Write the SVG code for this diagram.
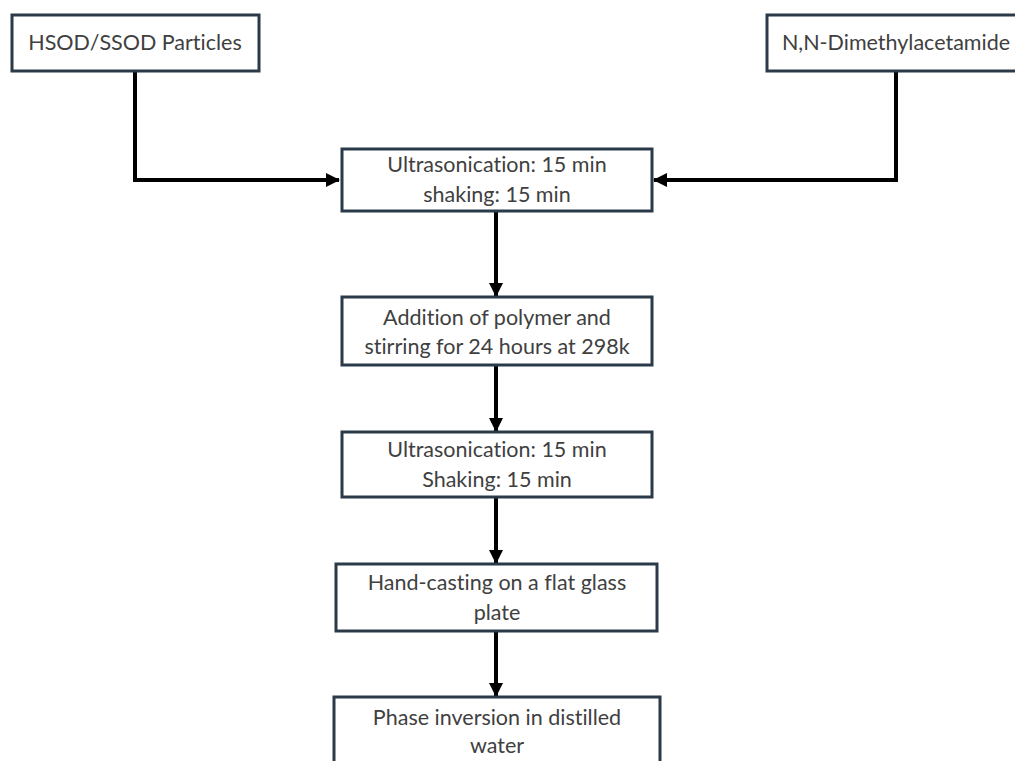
<svg xmlns="http://www.w3.org/2000/svg" width="1015" height="761" viewBox="0 0 1015 761">
<style>
.box{fill:#ffffff;stroke:#2b3a48;stroke-width:3}
.t{font-family:Lato,"Liberation Sans",sans-serif;font-size:21.5px;fill:#404040;text-anchor:middle;font-variant-ligatures:none}
.c{fill:none;stroke:#000;stroke-width:4}
</style>
<defs>
<marker id="ah" markerUnits="userSpaceOnUse" markerWidth="14" markerHeight="14" viewBox="0 0 14 14" refX="13" refY="7" orient="auto">
<path d="M0,0 L14,7 L0,14 Z" fill="#000"/>
</marker>
</defs>
<rect width="1015" height="761" fill="#fff"/>
<g id="connectors">
<path class="c" d="M135,71 V180 H339" marker-end="url(#ah)"/>
<path class="c" d="M896,71 V180 H654" marker-end="url(#ah)"/>
<path class="c" d="M496,211 V296" marker-end="url(#ah)"/>
<path class="c" d="M496,366 V431" marker-end="url(#ah)"/>
<path class="c" d="M496,498 V563" marker-end="url(#ah)"/>
<path class="c" d="M496,632 V696" marker-end="url(#ah)"/>
</g>
<g id="n1">
<rect class="box" x="12" y="15" width="247" height="56"/>
<text class="t" x="135" y="50">HSOD/SSOD Particles</text>
</g>
<g id="n2">
<rect class="box" x="767" y="15" width="260" height="56"/>
<text class="t" x="896" y="50">N,N-Dimethylacetamide</text>
</g>
<g id="n3">
<rect class="box" x="342" y="149" width="310" height="62"/>
<text class="t" x="497" y="172">Ultrasonication: 15 min</text>
<text class="t" x="497" y="202">shaking: 15 min</text>
</g>
<g id="n4">
<rect class="box" x="342" y="297" width="310" height="68"/>
<text class="t" x="497" y="325">Addition of polymer and</text>
<text class="t" x="497" y="354">stirring for 24 hours at 298k</text>
</g>
<g id="n5">
<rect class="box" x="342" y="432" width="310" height="65"/>
<text class="t" x="497" y="457">Ultrasonication: 15 min</text>
<text class="t" x="497" y="487">Shaking: 15 min</text>
</g>
<g id="n6">
<rect class="box" x="336" y="564" width="321" height="67"/>
<text class="t" x="497" y="590">Hand-casting on a flat glass</text>
<text class="t" x="497" y="620">plate</text>
</g>
<g id="n7">
<rect class="box" x="334" y="697" width="326" height="80"/>
<text class="t" x="497" y="725">Phase inversion in distilled</text>
<text class="t" x="497" y="753">water</text>
</g>
</svg>
